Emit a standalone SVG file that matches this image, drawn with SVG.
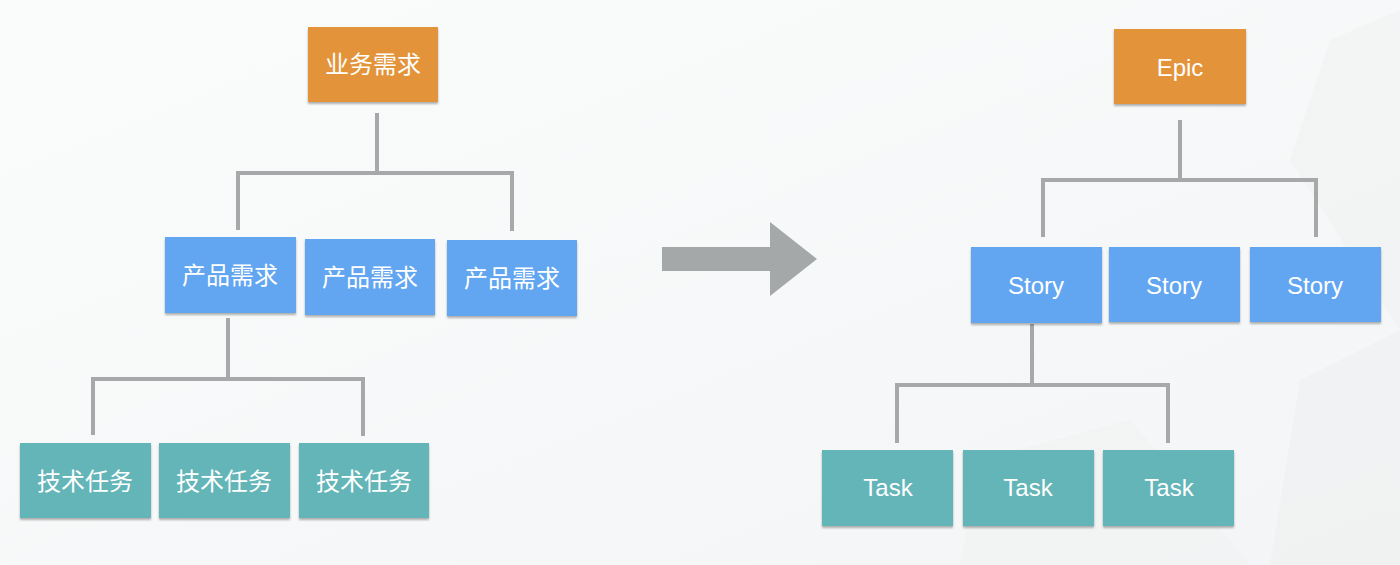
<svg xmlns="http://www.w3.org/2000/svg" width="1400" height="565" viewBox="0 0 1400 565">
<defs>
<linearGradient id="bg" x1="0" y1="0" x2="1" y2="1">
<stop offset="0" stop-color="#FAFBFB"/>
<stop offset="1" stop-color="#F4F5F6"/>
</linearGradient>
<filter id="sh" x="-5%" y="-5%" width="110%" height="120%">
<feDropShadow dx="0" dy="2" stdDeviation="1" flood-color="#000" flood-opacity="0.3"/>
</filter>
<style>
.box{filter:url(#sh)}
.orange{fill:#E3943B}
.blue{fill:#62A6F1}
.teal{fill:#63B5B8}
.t{fill:#fff;font-family:"Liberation Sans","Noto Sans CJK SC",sans-serif;font-size:24px;text-anchor:middle}
.cn{font-family:"Noto Sans CJK SC","Liberation Sans",sans-serif;font-size:24px}
.ln{stroke:#A6A8A9;stroke-width:4;fill:none;stroke-linejoin:miter}
</style>
</defs>
<rect width="1400" height="565" fill="url(#bg)"/>
<polygon points="1330,40 1400,10 1400,330 1290,160" fill="#EEEFF0" opacity="0.45"/>
<polygon points="1300,380 1400,330 1400,565 1270,565" fill="#ECEDEE" opacity="0.4"/>
<polygon points="980,460 1130,420 1250,565 960,565" fill="#F0F1F2" opacity="0.5"/>

<g id="connectors">
<path class="ln" d="M377,113 V173 M238,230 V173 H512 V231"/>
<path class="ln" d="M228,318 V379 M93,435 V379 H363 V436"/>
<path class="ln" d="M1180,120 V180 M1043,237 V180 H1316 V237"/>
<path class="ln" d="M1032,324 V385 M897,443 V385 H1168 V443"/>
<polygon id="arrow" points="662,247 770,247 770,222 817,259 770,296 770,271 662,271" fill="#A5A8A8"/>
</g>

<g id="n-business"><rect class="box orange" x="308" y="27" width="130" height="75"/><text class="t cn" x="373" y="73">业务需求</text></g>
<g id="n-prod1"><rect class="box blue" x="165" y="237" width="131" height="76"/><text class="t cn" x="230" y="284">产品需求</text></g>
<g id="n-prod2"><rect class="box blue" x="305" y="239" width="130" height="76"/><text class="t cn" x="370" y="286">产品需求</text></g>
<g id="n-prod3"><rect class="box blue" x="447" y="240" width="130" height="76"/><text class="t cn" x="512" y="287">产品需求</text></g>
<g id="n-tech1"><rect class="box teal" x="20" y="443" width="131" height="75"/><text class="t cn" x="85" y="490">技术任务</text></g>
<g id="n-tech2"><rect class="box teal" x="159" y="443" width="131" height="75"/><text class="t cn" x="224" y="490">技术任务</text></g>
<g id="n-tech3"><rect class="box teal" x="299" y="443" width="130" height="75"/><text class="t cn" x="364" y="490">技术任务</text></g>

<g id="n-epic"><rect class="box orange" x="1114" y="29" width="132" height="75"/><text class="t" x="1180" y="76">Epic</text></g>
<g id="n-story1"><rect class="box blue" x="971" y="247" width="131" height="76"/><text class="t" x="1036" y="294">Story</text></g>
<g id="n-story2"><rect class="box blue" x="1109" y="247" width="131" height="75"/><text class="t" x="1174" y="294">Story</text></g>
<g id="n-story3"><rect class="box blue" x="1250" y="247" width="131" height="75"/><text class="t" x="1315" y="294">Story</text></g>
<g id="n-task1"><rect class="box teal" x="822" y="450" width="131" height="76"/><text class="t" x="888" y="496">Task</text></g>
<g id="n-task2"><rect class="box teal" x="963" y="450" width="131" height="76"/><text class="t" x="1028" y="496">Task</text></g>
<g id="n-task3"><rect class="box teal" x="1103" y="450" width="131" height="76"/><text class="t" x="1169" y="496">Task</text></g>
</svg>
